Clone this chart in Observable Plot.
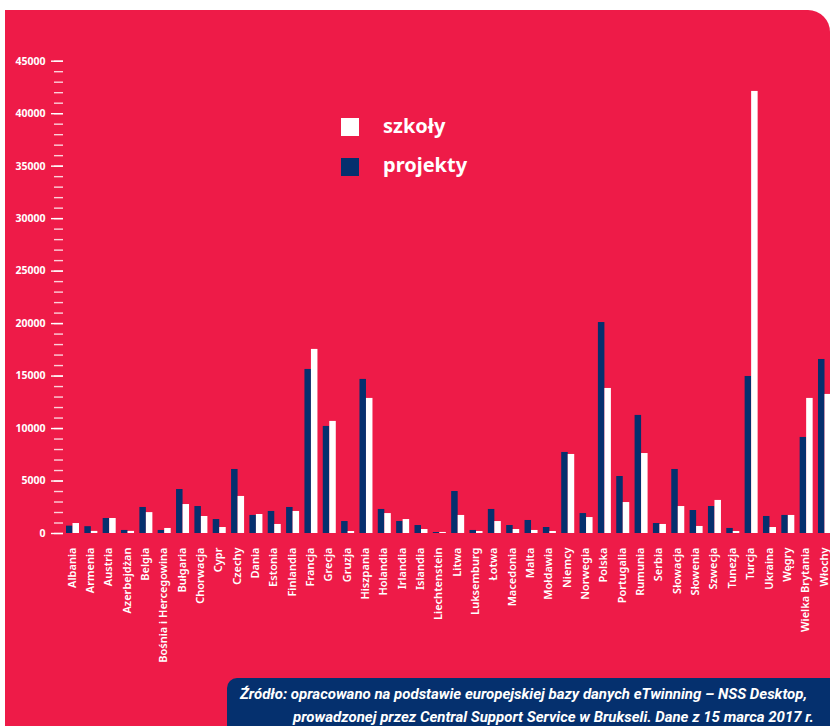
<!DOCTYPE html>
<html>
<head>
<meta charset="utf-8">
<script src="https://cdn.jsdelivr.net/npm/d3@7"></script>
<script src="https://cdn.jsdelivr.net/npm/@observablehq/plot@0.6"></script>
<style>
  html, body { margin: 0; padding: 0; background: #fff; overflow: hidden; }
  #page { position: relative; width: 830px; height: 726px; overflow: hidden; background: #fff; }
  #panel { position: absolute; left: 5px; top: 10px; width: 825px; height: 716px; background: #ee1b48; border-top-right-radius: 22px; }
  #chart { position: absolute; left: 0; top: 0; width: 840px; }
  #chart svg { max-width: none !important; }
  .legend { position: absolute; font-family: "Noto Sans", sans-serif; font-weight: 700; font-size: 20px; color: #fff; }
  .sw { position: absolute; width: 18px; height: 18px; }
  #caption { position: absolute; left: 227px; top: 678px; width: 700px; height: 60px; background: #05306e; border-top-left-radius: 10px; }
  .cap { position: absolute; white-space: nowrap; color: #fff; font-family: "Roboto", "Noto Sans", sans-serif; font-weight: 700; font-style: italic; font-size: 15px; line-height: 1; transform-origin: 0 50%; }
</style>
</head>
<body>
<div id="page">
  <div id="panel"></div>
  <div id="chart"></div>
  <div class="sw" style="left:341px;top:118px;background:#fff"></div>
  <div class="sw" style="left:341px;top:158px;background:#05306e"></div>
  <div class="legend" id="lg1" style="left:383px;top:112px"></div>
  <div class="legend" id="lg2" style="left:383px;top:151px"></div>
  <div id="caption"></div>
  <div class="cap" id="cap1" style="left:240px;top:687px"></div>
  <div class="cap" id="cap2" style="left:293px;top:710px"></div>
</div>
<script>
const countries = ["Albania","Armenia","Austria","Azerbejdżan","Belgia","Bośnia i Hercegowina","Bułgaria","Chorwacja","Cypr","Czechy","Dania","Estonia","Finlandia","Francja","Grecja","Gruzja","Hiszpania","Holandia","Irlandia","Islandia","Liechtenstein","Litwa","Luksemburg","Łotwa","Macedonia","Malta","Mołdawia","Niemcy","Norwegia","Polska","Portugalia","Rumunia","Serbia","Słowacja","Słowenia","Szwecja","Tunezja","Turcja","Ukraina","Węgry","Wielka Brytania","Włochy"];
const projekty = [700,650,1430,290,2480,290,4190,2570,1330,6100,1720,2100,2480,15630,10200,1140,14680,2290,1140,760,95,4000,290,2290,760,1240,570,7720,1900,20100,5430,11250,950,6100,2190,2570,480,14960,1620,1720,9150,16580];
const szkoly = [950,200,1430,200,1990,480,2760,1620,570,3530,1810,860,2100,17540,10680,190,12870,1900,1330,380,100,1720,190,1140,380,290,190,7530,1520,13820,2950,7620,860,2570,670,3150,190,42120,570,1720,12870,13250];
const seriesNames = ["projekty", "szkoły"];
const legendLabels = ["szkoły", "projekty"];
const majorTicks = [0,5000,10000,15000,20000,25000,30000,35000,40000,45000];
const minorTicks = [0,1000,2000,3000,4000,5000,6000,7000,8000,9000,10000,11000,12000,13000,14000,15000,16000,17000,18000,19000,20000,21000,22000,23000,24000,25000,26000,27000,28000,29000,30000,31000,32000,33000,34000,35000,36000,37000,38000,39000,40000,41000,42000,43000,44000,45000];
const captionLines = [
  "Źródło: opracowano na podstawie europejskiej bazy danych eTwinning – NSS Desktop,",
  "prowadzonej przez Central Support Service w Brukseli. Dane z 15 marca 2017 r."
];

const data = [];
countries.forEach((c, i) => {
  data.push({country: c, series: seriesNames[0], value: projekty[i]});
  data.push({country: c, series: seriesNames[1], value: szkoly[i]});
});

const navy = "#05306e";

const chart = Plot.plot({
  width: 840,
  height: 726,
  marginLeft: 66,
  marginRight: 9,
  marginTop: 60.7,
  marginBottom: 193,
  style: {background: "transparent", color: "#fff", fontFamily: "'Noto Sans', sans-serif", maxWidth: "none"},
  fx: {domain: countries, paddingInner: 0.291, paddingOuter: 0, round: false},
  x: {domain: seriesNames, padding: 0, round: false, axis: null},
  y: {domain: [0, 45000]},
  color: {domain: seriesNames, range: [navy, "#ffffff"]},
  marks: [
    Plot.axisY({ticks: minorTicks, tickSize: 9, tickFormat: () => "", label: null, stroke: "#fff", strokeOpacity: 0.8, strokeWidth: 1.4, dx: -3}),
    Plot.axisY({ticks: majorTicks, tickSize: 12, tickPadding: 6, tickFormat: d => String(d), label: null, stroke: "#fff", strokeWidth: 1.4, fill: "#fff", fontSize: 10.5, fontWeight: 700, dx: -3}),
    Plot.axisFx({anchor: "bottom", tickRotate: -90, tickSize: 0, tickPadding: 14, label: null, fill: "#fff", fontSize: 11, fontWeight: 600, dx: -1}),
    Plot.barY(data, {fx: "country", x: "series", y: "value", fill: "series"})
  ]
});
document.getElementById("chart").appendChild(chart);
document.getElementById("lg1").textContent = legendLabels[0];
document.getElementById("lg2").textContent = legendLabels[1];

// fit caption lines horizontally (condensed look) within the visible box
function fitLine(id, text, targetWidth) {
  const el = document.getElementById(id);
  el.textContent = text;
  const w = el.getBoundingClientRect().width;
  const s = Math.min(1, targetWidth / w);
  el.style.transform = `scaleX(${s})`;
}
fitLine("cap1", captionLines[0], 586);
fitLine("cap2", captionLines[1], 532);
</script>
</body>
</html>
